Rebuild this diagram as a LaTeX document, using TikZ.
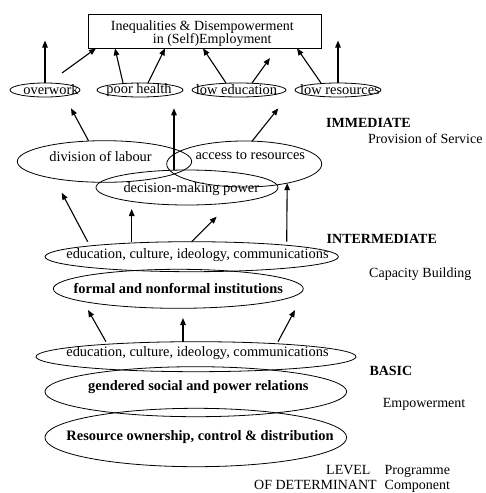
\documentclass[tikz,border=0pt]{standalone}
\usepackage{fontspec}
\setmainfont{Liberation Serif}
\usetikzlibrary{shapes.geometric,arrows.meta}
\begin{document}
\begin{tikzpicture}[x=1pt,y=-1pt,
  ell/.style={draw, ellipse, inner sep=0pt, outer sep=0pt, line width=0.8pt},
  lab/.style={inner sep=0pt, font=\fontsize{14.4}{15.7}\selectfont},
  blab/.style={lab, font=\fontsize{14.4}{15.7}\selectfont\bfseries},
  side/.style={inner sep=0pt, anchor=base west, font=\fontsize{14}{15}\selectfont},
  bside/.style={inner sep=0pt, anchor=base west, font=\fontsize{14}{15}\selectfont\bfseries},
  arr/.style={-{Triangle[length=7pt,width=5.5pt]}, line width=1.1pt}]
\useasboundingbox (0,0) rectangle (486,493);
% top box
\node[draw, line width=0.8pt, minimum width=233.4pt, minimum height=33.3pt, inner sep=0pt] (box) at (205,31.3) {};
\node[side] (box1) at (110.7,30.7) {Inequalities \& Disempowerment};
\node[side] (box2) at (152.7,43.7) {in (Self)Employment};
% small ellipses
\node[ell, minimum width=70pt, minimum height=14pt] (ow) at (45,90) {};
\node[ell, minimum width=86pt, minimum height=14pt] (ph) at (140,90) {};
\node[ell, minimum width=94pt, minimum height=14pt] (le) at (239,90) {};
\node[ell, minimum width=86pt, minimum height=14pt] (lr) at (338,90) {};
\node[lab] (owt) at (51,90) {overwork};
\node[lab] (pht) at (139,90) {poor health};
\node[lab] (let) at (236.5,90) {low education};
\node[lab] (lrt) at (340,90) {low resources};
% immediate ellipses
\node[ell, minimum width=174.4pt, minimum height=41.6pt] (dl) at (104.5,161.5) {};
\node[ell, minimum width=155pt, minimum height=46pt] (ar) at (244.2,164) {};
\node[ell, minimum width=182pt, minimum height=35pt] (dm) at (187,187.5) {};
\node[lab] (dlt) at (100.5,156) {division of labour};
\node[lab] (art) at (250.3,156) {access to resources};
\node[lab] (dmt) at (191.3,189) {decision-making power};
% intermediate ellipses
\node[ell, minimum width=293.3pt, minimum height=30pt] (ie) at (191.7,256.7) {};
\node[ell, minimum width=250pt, minimum height=39pt] (fi) at (178.3,288.8) {};
\node[lab] (iet) at (197.5,255) {education, culture, ideology, communications};
\node[blab] (fit) at (178.3,288.3) {formal and nonformal institutions};
% basic ellipses
\node[ell, minimum width=320pt, minimum height=30pt] (be) at (196,356.7) {};
\node[ell, minimum width=301.7pt, minimum height=50pt] (gr) at (195.8,391.7) {};
\node[ell, minimum width=301.7pt, minimum height=58.4pt] (ro) at (195.8,437.5) {};
\node[lab] (bet) at (197.5,353.3) {education, culture, ideology, communications};
\node[blab] (grt) at (198.3,387.3) {gendered social and power relations};
\node[blab] (rot) at (200,436.7) {Resource ownership, control \& distribution};
% side labels
\node[bside] (imm) at (326,127.3) {IMMEDIATE};
\node[side] (prov) at (368,143.3) {Provision of Service};
\node[bside] (inter) at (326.5,243.3) {INTERMEDIATE};
\node[side] (cap) at (369,277.5) {Capacity Building};
\node[bside] (basic) at (369.3,375.7) {BASIC};
\node[side] (emp) at (382.7,407.5) {Empowerment};
\node[side] (lev) at (326,474) {LEVEL};
\node[side] (prog) at (384.5,474) {Programme};
\node[side] (odet) at (254,489.5) {OF DETERMINANT};
\node[side] (comp) at (384.5,489.5) {Component};
% free ends
\coordinate (t1) at (45,40.5);
\coordinate (s2) at (62,73);
\coordinate (t6) at (270,58);
\coordinate (t8) at (338,40.5);
\coordinate (t9) at (71,108.3);
\coordinate (t10) at (174,108.3);
\coordinate (t11) at (278.3,108.3);
\coordinate (t12) at (61.7,192.7);
\coordinate (t13) at (131.7,209);
\coordinate (t14) at (216.7,216.7);
\coordinate (t16) at (88,310);
\coordinate (t17) at (183,318);
\coordinate (t18) at (295,310);
% top arrows
\draw[arr] (ow.north) -- (t1);
\draw[arr] (s2) -- ([xshift=-109pt]box.south);
\draw[arr] ([xshift=-17pt]ph.north) -- ([xshift=-90pt]box.south);
\draw[arr] ([xshift=8pt]ph.north) -- ([xshift=-40pt]box.south);
\draw[arr] ([xshift=-13pt]le.north) -- ([xshift=-2pt]box.south);
\draw[arr] ([xshift=13pt]le.north) -- (t6);
\draw[arr] ([xshift=-17pt]lr.north) -- ([xshift=92pt]box.south);
\draw[arr] (lr.north) -- (t8);
% immediate arrows
\draw[arr] ([xshift=-16pt]dl.north) -- (t9);
\draw[arr] ([xshift=-13pt]dm.north) -- (t10);
\draw[arr] ([xshift=8pt]ar.north) -- (t11);
% intermediate arrows
\draw[arr] ([xshift=-104pt]ie.north) -- (t12);
\draw[arr] ([xshift=-60pt]ie.north) -- (t13);
\draw[arr] (ie.north) -- (t14);
\draw[arr] ([xshift=95pt]ie.north) -- (ar.-24.3);
% basic arrows
\draw[arr] ([xshift=-90pt]be.north) -- (t16);
\draw[arr] ([xshift=-13pt]be.north) -- (t17);
\draw[arr] ([xshift=82pt]be.north) -- (t18);
\end{tikzpicture}
\end{document}
